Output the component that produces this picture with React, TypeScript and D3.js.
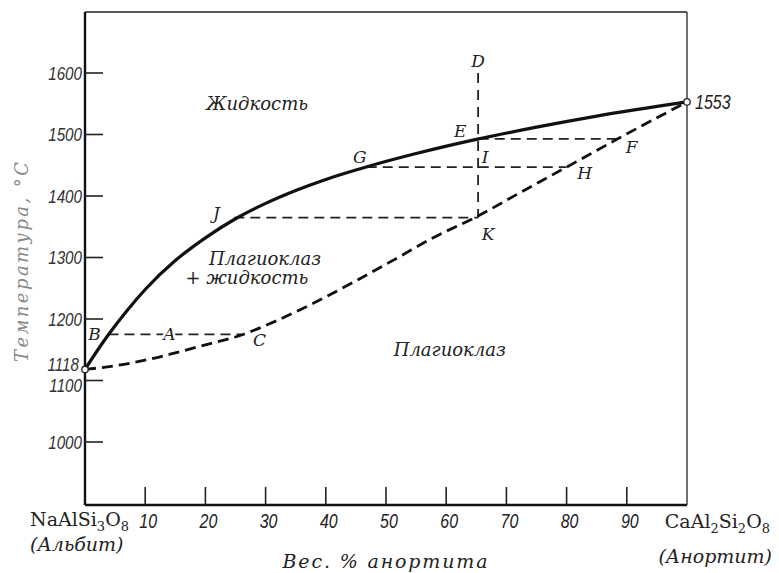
import { useEffect, useRef } from 'react';
import * as d3 from 'd3';

// axis ticks
const pctTicks = [10, 20, 30, 40, 50, 60, 70, 80, 90];
const tempTicks = [1000, 1100, 1200, 1300, 1400, 1500, 1600];

// liquidus (solid)
const liquidusPct = [0, 2, 4, 7, 10, 15, 20, 25, 30, 35, 40, 47, 55, 65, 75, 85, 100];
const liquidusTemp = [1118, 1148, 1176, 1214, 1248, 1295, 1332, 1363, 1388, 1409, 1427, 1448, 1469, 1492, 1512, 1530, 1553];

// solidus (dashed)
const solidusPct = [0, 5, 10, 15, 20, 26, 32, 38, 45, 52, 58, 65, 72, 80, 88.5, 100];
const solidusTemp = [1118, 1124, 1133, 1145, 1158, 1174, 1198, 1226, 1262, 1300, 1333, 1366, 1404, 1447, 1493, 1553];

// horizontal tie lines
const tieTemp = [1175, 1365, 1447, 1493];
const tieFrom = [3.9, 24.8, 46.8, 65.4];
const tieTo = [26, 65.3, 80, 88.5];

// vertical cooling path D -> K
const pathPct = 65.3;
const pathTemp = [1600, 1365];

// lettered points
const pointNames = ['B', 'A', 'C', 'J', 'K', 'G', 'I', 'E', 'D', 'F', 'H'];
const pointPct = [3.9, 14, 26, 24.8, 65.3, 46.8, 65.3, 65.3, 65.3, 88.5, 80];
const pointTemp = [1175, 1175, 1175, 1365, 1365, 1447, 1447, 1493, 1600, 1493, 1447];

// melting points of end members
const endPct = [0, 100];
const endTemp = [1118, 1553];

// field names
const regionNames = ['Жидкость', 'Плагиоклаз', '+ жидкость', 'Плагиоклаз'];
const regionPct = [28.6, 29.9, 26.9, 60.6];
const regionTemp = [1551, 1299, 1267, 1150];

const sans = "'Liberation Sans', Arial, sans-serif";
const serif = "'DejaVu Serif', 'Liberation Serif', serif";

const Diagram = ({ width = 779, height = 573 }) => {
  const svgRef = useRef<SVGSVGElement>(null);

  useEffect(() => {
    if (!svgRef.current) return;
    const svg = d3.select(svgRef.current);
    svg.selectAll('*').remove();

    const x = d3.scaleLinear().domain([0, 100]).range([85, 687]);
    const y = d3.scaleLinear().domain([1000, 1600]).range([442, 73]);
    const top = 12;
    const bottom = 505;

    // narrow italic numerals
    const num = (tx: number, ty: number, s: string | number, anchor: string, size = 20, fill = '#333') =>
      svg.append('text')
        .attr('transform', `translate(${tx},${ty}) scale(0.8,1)`)
        .attr('text-anchor', anchor).attr('dominant-baseline', 'central')
        .style('font-family', sans).style('font-style', 'italic').style('font-size', `${size}px`)
        .attr('fill', fill).text(s);

    // frame
    svg.append('line').attr('x1', x(0)).attr('x2', x(0)).attr('y1', top).attr('y2', bottom)
      .attr('stroke', '#111').attr('stroke-width', 2.4);
    svg.append('line').attr('x1', x(0)).attr('x2', x(100)).attr('y1', bottom).attr('y2', bottom)
      .attr('stroke', '#111').attr('stroke-width', 2.4);
    svg.append('line').attr('x1', x(0)).attr('x2', x(100)).attr('y1', top).attr('y2', top)
      .attr('stroke', '#222').attr('stroke-width', 1.6);
    svg.append('line').attr('x1', x(100)).attr('x2', x(100)).attr('y1', top).attr('y2', bottom)
      .attr('stroke', '#333').attr('stroke-width', 1.4);

    // y ticks
    svg.selectAll('.ytick').data(tempTicks).enter().append('line')
      .attr('x1', x(0)).attr('x2', x(0) + 18)
      .attr('y1', d => y(d)).attr('y2', d => y(d))
      .attr('stroke', '#222').attr('stroke-width', 1.6);
    tempTicks.forEach(d => num(82, y(d) + (d === 1100 ? 5 : 0), d, 'end', 19));

    // x ticks
    svg.selectAll('.xtick').data(pctTicks).enter().append('line')
      .attr('x1', d => x(d)).attr('x2', d => x(d))
      .attr('y1', bottom).attr('y2', bottom - 18)
      .attr('stroke', '#222').attr('stroke-width', 1.6);
    pctTicks.forEach(d => num(x(d) + 3, 521, d, 'middle', 20, '#222'));

    // end member formulas
    const formula = (parts: [string, boolean][], tx: number, ty: number, anchor: string) => {
      const t = svg.append('text').attr('x', tx).attr('y', ty).attr('text-anchor', anchor)
        .style('font-family', serif).style('font-size', '19px').attr('fill', '#222');
      let shifted = false;
      parts.forEach(([s, sub]) => {
        const sp = t.append('tspan').text(s);
        if (sub && !shifted) { sp.attr('dy', 5).style('font-size', '13px'); shifted = true; }
        else if (!sub && shifted) { sp.attr('dy', -5); shifted = false; }
        else if (sub) sp.style('font-size', '13px');
      });
      return t;
    };
    formula([['NaAlSi', false], ['3', true], ['O', false], ['8', true]], 30, 526, 'start');
    formula([['CaAl', false], ['2', true], ['Si', false], ['2', true], ['O', false], ['8', true]], 770, 528, 'end');

    svg.append('text').attr('x', 30).attr('y', 551)
      .style('font-family', serif).style('font-style', 'italic').style('font-size', '19px').attr('fill', '#222')
      .text('(Альбит)');
    svg.append('text').attr('x', 772).attr('y', 563).attr('text-anchor', 'end')
      .style('font-family', serif).style('font-style', 'italic').style('font-size', '19px').attr('fill', '#222')
      .text('(Анортит)');

    // axis titles
    svg.append('text').attr('x', 385).attr('y', 568).attr('text-anchor', 'middle')
      .attr('textLength', 205).attr('lengthAdjust', 'spacing')
      .style('font-family', serif).style('font-style', 'italic').style('font-size', '19px').attr('fill', '#222')
      .text('Вес. % анортита');
    svg.append('text').attr('transform', 'translate(28,262) rotate(-90)').attr('text-anchor', 'middle')
      .attr('textLength', 200).attr('lengthAdjust', 'spacing')
      .style('font-family', serif).style('font-style', 'italic').style('font-size', '18px').attr('fill', '#888')
      .text('Температура, °C');

    // tie lines
    svg.selectAll('.tie').data(tieTemp).enter().append('line')
      .attr('x1', (d, i) => x(tieFrom[i])).attr('x2', (d, i) => x(tieTo[i]))
      .attr('y1', d => y(d)).attr('y2', d => y(d))
      .attr('stroke', '#222').attr('stroke-width', 1.8).attr('stroke-dasharray', '10,6');
    svg.append('line')
      .attr('x1', x(pathPct)).attr('x2', x(pathPct))
      .attr('y1', y(pathTemp[0])).attr('y2', y(pathTemp[1]))
      .attr('stroke', '#222').attr('stroke-width', 1.8).attr('stroke-dasharray', '10,7');

    // solidus and liquidus
    const line = d3.line<number>().curve(d3.curveMonotoneX);
    svg.append('path')
      .attr('d', line.x(d => x(d)).y((d, i) => y(solidusTemp[i]))(solidusPct))
      .attr('fill', 'none').attr('stroke', '#111').attr('stroke-width', 2.8).attr('stroke-dasharray', '11,6');
    svg.append('path')
      .attr('d', line.x(d => x(d)).y((d, i) => y(liquidusTemp[i]))(liquidusPct))
      .attr('fill', 'none').attr('stroke', '#111').attr('stroke-width', 3.2);

    // end points
    svg.selectAll('.endpt').data(endPct).enter().append('circle')
      .attr('cx', d => x(d)).attr('cy', (d, i) => y(endTemp[i])).attr('r', 3.2)
      .attr('fill', '#fff').attr('stroke', '#222').attr('stroke-width', 1.3);
    num(79, y(endTemp[0]) - 5, endTemp[0], 'end', 19);
    num(x(100) + 8, y(endTemp[1]), endTemp[1], 'start', 20, '#222');

    // point letters
    const offsets: Record<string, [number, number]> = {
      B: [-14, 0], A: [0, 0], C: [18, 6], J: [-18, -5], K: [10, 16], G: [-7, -10],
      I: [7, -10], E: [-18, -8], D: [0, -12], F: [14, 8], H: [18, 6],
    };
    svg.selectAll('.pt').data(pointNames).enter().append('text')
      .attr('x', (d, i) => x(pointPct[i]) + offsets[d][0])
      .attr('y', (d, i) => y(pointTemp[i]) + offsets[d][1])
      .attr('text-anchor', 'middle').attr('dominant-baseline', 'central')
      .style('font-family', serif).style('font-style', 'italic').style('font-size', '17px')
      .attr('fill', '#222')
      .attr('stroke', d => (d === 'A' ? '#fff' : 'none')).attr('stroke-width', 5)
      .style('paint-order', 'stroke')
      .text(d => d);

    // field names
    svg.selectAll('.region').data(regionNames).enter().append('text')
      .attr('x', (d, i) => x(regionPct[i])).attr('y', (d, i) => y(regionTemp[i]))
      .attr('text-anchor', 'middle').attr('dominant-baseline', 'central')
      .style('font-family', serif).style('font-style', 'italic').style('font-size', '18px')
      .attr('fill', '#222')
      .text(d => d);
  }, [width, height]);

  return (
    <svg ref={svgRef} width={width} height={height}
      style={{ position: 'absolute', left: 0, top: 0, background: '#fff' }} />
  );
};

export default function App() {
  return <Diagram />;
}
